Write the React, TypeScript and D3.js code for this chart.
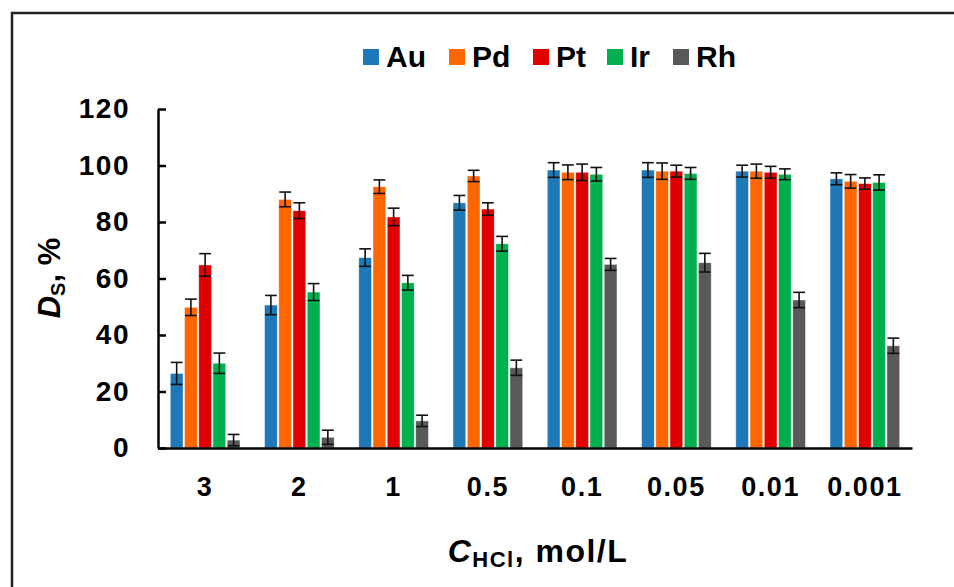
import React, { useRef, useEffect } from 'react';
import * as d3 from 'd3';

const categories = ['3', '2', '1', '0.5', '0.1', '0.05', '0.01', '0.001'];
const metals = ['Au', 'Pd', 'Pt', 'Ir', 'Rh'];
const COLORS = ['#1f78b8', '#ff6600', '#e00000', '#00b04f', '#595959'];

const auValues = [26.4, 50.6, 67.4, 86.8, 98.4, 98.4, 98.0, 95.3];
const pdValues = [49.8, 88.0, 92.5, 96.3, 97.6, 98.0, 98.0, 94.4];
const ptValues = [64.8, 84.0, 81.8, 84.6, 97.6, 98.0, 97.6, 93.6];
const irValues = [30.0, 55.2, 58.5, 72.3, 96.9, 97.2, 96.9, 94.0];
const rhValues = [2.8, 3.8, 9.6, 28.4, 65.0, 65.6, 52.4, 36.2];

const auErr = [3.9, 3.4, 3.1, 2.6, 2.6, 2.6, 2.1, 2.1];
const pdErr = [2.9, 2.6, 2.4, 2.0, 2.6, 2.9, 2.5, 2.4];
const ptErr = [4.0, 2.8, 3.1, 2.2, 2.9, 2.1, 2.1, 2.0];
const irErr = [3.6, 3.0, 2.6, 2.6, 2.4, 2.1, 1.9, 2.7];
const rhErr = [2.0, 2.5, 2.0, 2.7, 2.1, 3.3, 2.7, 2.7];

const yTicks = [0, 20, 40, 60, 80, 100, 120];

const FONT = '"Liberation Sans", Arial, sans-serif';

const App = () => {
  const svgRef = useRef(null);
  const width = 954;
  const height = 587;

  useEffect(() => {
    const svg = d3.select(svgRef.current);
    svg.selectAll('*').remove();

    const values = [auValues, pdValues, ptValues, irValues, rhValues];
    const errors = [auErr, pdErr, ptErr, irErr, rhErr];
    const rows = [];
    categories.forEach((c, i) => {
      metals.forEach((m, j) => {
        rows.push({ cat: c, metal: m, value: values[j][i], err: errors[j][i], color: COLORS[j] });
      });
    });

    const x = d3.scaleBand().domain(categories).range([158, 912]).paddingInner(0.26).paddingOuter(0.13);
    const xSub = d3.scaleBand().domain(metals).range([0, x.bandwidth()]).paddingInner(0.1);
    const y = d3.scaleLinear().domain([0, 120]).range([448, 109]);

    // frame
    svg.append('path')
      .attr('d', 'M12,587 V13 H954')
      .attr('fill', 'none')
      .attr('stroke', '#222')
      .attr('stroke-width', 2.5);

    // bars
    const g = svg.append('g');
    g.selectAll('.bar')
      .data(rows)
      .join('rect')
      .attr('class', 'bar')
      .attr('x', d => x(d.cat) + xSub(d.metal))
      .attr('y', d => y(d.value))
      .attr('width', xSub.bandwidth())
      .attr('height', d => y(0) - y(d.value))
      .attr('fill', d => d.color)
      .attr('stroke', '#ffffff')
      .attr('stroke-opacity', 0.6)
      .attr('stroke-width', 0.8);

    // error bars
    const eb = g.selectAll('.err')
      .data(rows)
      .join('g')
      .attr('class', 'err')
      .attr('stroke', '#111')
      .attr('stroke-width', 1.6);
    const cx = d => x(d.cat) + xSub(d.metal) + xSub.bandwidth() / 2;
    const cap = xSub.bandwidth() / 2 - 0.5;
    eb.append('line')
      .attr('x1', cx).attr('x2', cx)
      .attr('y1', d => y(d.value + d.err))
      .attr('y2', d => Math.min(y(d.value - d.err), y(0)));
    eb.append('line')
      .attr('x1', d => cx(d) - cap).attr('x2', d => cx(d) + cap)
      .attr('y1', d => y(d.value + d.err)).attr('y2', d => y(d.value + d.err));
    eb.filter(d => d.value - d.err > 0).append('line')
      .attr('x1', d => cx(d) - cap).attr('x2', d => cx(d) + cap)
      .attr('y1', d => y(d.value - d.err)).attr('y2', d => y(d.value - d.err));

    // y axis
    const yAxis = d3.axisLeft(y).tickValues(yTicks).tickSizeInner(-8).tickSizeOuter(0).tickPadding(28);
    const ya = svg.append('g').attr('transform', 'translate(158,0)').call(yAxis);
    ya.select('.domain').attr('stroke', '#000').attr('stroke-width', 2.5);
    ya.selectAll('.tick line').attr('stroke', '#000').attr('stroke-width', 2.5);
    ya.selectAll('.tick text')
      .attr('fill', '#000')
      .style('font-family', FONT)
      .style('font-weight', 'bold')
      .style('font-size', '28px')
      .style('letter-spacing', '1.5px');

    // x axis
    const xAxis = d3.axisBottom(x).tickSize(0).tickPadding(29);
    const xa = svg.append('g').attr('transform', 'translate(0,448)').call(xAxis);
    xa.select('.domain').attr('stroke', '#000').attr('stroke-width', 2.5);
    xa.selectAll('.tick text')
      .attr('fill', '#000')
      .style('font-family', FONT)
      .style('font-weight', 'bold')
      .style('font-size', '27px')
      .style('letter-spacing', '1.5px');

    // y title
    const yt = svg.append('text')
      .attr('transform', 'translate(60,278) rotate(-90)')
      .attr('text-anchor', 'middle')
      .style('font-family', FONT)
      .style('font-weight', 'bold')
      .style('font-size', '31px')
      .attr('fill', '#000');
    yt.append('tspan').style('font-style', 'italic').text('D');
    yt.append('tspan').style('font-size', '20px').attr('dy', 5).text('S');
    yt.append('tspan').attr('dy', -5).text(', %');

    // x title
    const xt = svg.append('text')
      .attr('x', 538)
      .attr('y', 562)
      .attr('text-anchor', 'middle')
      .style('font-family', FONT)
      .style('font-weight', 'bold')
      .style('font-size', '32px')
      .style('letter-spacing', '1.5px')
      .attr('fill', '#000');
    xt.append('tspan').style('font-style', 'italic').text('C');
    xt.append('tspan').style('font-size', '22px').attr('dy', 5).text('HCl');
    xt.append('tspan').attr('dy', -5).text(', mol/L');

    // legend
    const legendX = [363, 449, 533, 607, 673];
    const lg = svg.selectAll('.legend')
      .data(metals)
      .join('g')
      .attr('class', 'legend')
      .attr('transform', (d, i) => `translate(${legendX[i]},0)`);
    lg.append('rect')
      .attr('x', 0).attr('y', 49)
      .attr('width', 16).attr('height', 16)
      .attr('fill', (d, i) => COLORS[i]);
    lg.append('text')
      .attr('x', 23).attr('y', 67)
      .style('font-family', FONT)
      .style('font-weight', 'bold')
      .style('font-size', '30px')
      .attr('fill', '#000')
      .text(d => d);
  }, []);

  return (
    <svg
      ref={svgRef}
      width={width}
      height={height}
      style={{ position: 'absolute', left: 0, top: 0, background: '#fff' }}
    />
  );
};

export default App;
